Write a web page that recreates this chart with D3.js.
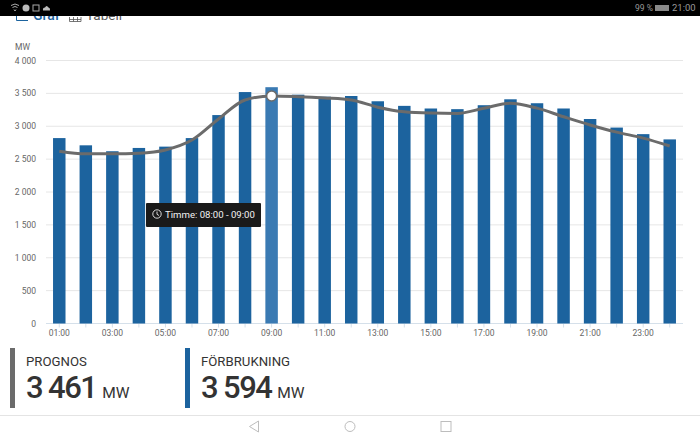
<!DOCTYPE html>
<html><head>
<meta charset="utf-8">
<title>Förbrukning</title>
<script src="https://d3js.org/d3.v7.min.js"></script>
<style>
  html, body { margin: 0; padding: 0; background: #fff; overflow: hidden; }
  svg { display: block; font-family: Roboto, sans-serif; }
  .gridline { stroke: #e6e6e6; stroke-width: 1; }
  .tick-label { fill: #666; font-size: 8.5px; }
  .nav { fill: none; stroke: #bdbdbd; stroke-width: 1; }
</style>
</head>
<body>
<svg id="chart" width="700" height="438"></svg>
<script>
// values
const hours = ["01:00","02:00","03:00","04:00","05:00","06:00","07:00","08:00","09:00","10:00","11:00","12:00",
               "13:00","14:00","15:00","16:00","17:00","18:00","19:00","20:00","21:00","22:00","23:00","24:00"];
const consumption = [2820,2710,2620,2670,2690,2820,3170,3520,3594,3480,3450,3460,
                     3380,3310,3270,3260,3320,3410,3350,3270,3110,2980,2880,2800];
const forecast = [2620,2580,2580,2590,2640,2790,3110,3400,3461,3450,3430,3400,
                  3290,3220,3200,3195,3275,3350,3275,3145,3020,2910,2820,2700];
const yTicks = [0,500,1000,1500,2000,2500,3000,3500,4000];
const activeHour = "09:00";

const svg = d3.select("svg#chart");
const margin = { top: 60.5, left: 46, right: 17, bottom: 114.5 };
const chartWidth = 700 - margin.left - margin.right;
const chartHeight = 438 - margin.top - margin.bottom;

const xScale = d3.scaleBand().domain(hours).range([0, chartWidth]).paddingInner(0.53).paddingOuter(0.265);
const yScale = d3.scaleLinear().domain([0, 4000]).range([chartHeight, 0]);
const fmt = d => d3.format(",")(d).replace(/,/g, " ");

let chart = svg.append("g").attr("transform", "translate(" + margin.left + "," + margin.top + ")");

// gridlines + y labels
yTicks.forEach(t => {
  chart.append("line").attr("class", "gridline")
    .attr("x1", 0).attr("x2", chartWidth)
    .attr("y1", yScale(t)).attr("y2", yScale(t))
    .style("stroke", t === 0 ? "#d5e0ea" : null);
  chart.append("text").attr("class", "tick-label")
    .attr("x", -10).attr("y", yScale(t) + 3)
    .attr("text-anchor", "end").text(fmt(t));
});
svg.append("text").attr("class", "tick-label").attr("x", 15).attr("y", 50).text("MW");

// x axis labels, every other hour
hours.forEach((h, i) => {
  let cx = xScale(h) + xScale.bandwidth() / 2;
  chart.append("line").attr("x1", cx).attr("x2", cx)
    .attr("y1", chartHeight).attr("y2", chartHeight + 4)
    .style("stroke", "#d5e0ea");
  if (i % 2 === 0) {
    chart.append("text").attr("class", "tick-label")
      .attr("x", cx).attr("y", chartHeight + 12)
      .attr("text-anchor", "middle").text(h);
  }
});

// bars
hours.forEach((h, i) => {
  chart.append("rect")
    .attr("x", xScale(h)).attr("width", xScale.bandwidth())
    .attr("y", yScale(consumption[i]))
    .attr("height", chartHeight - yScale(consumption[i]))
    .style("fill", h === activeHour ? "#3a7ab3" : "#1c639e");
});

// forecast line
const lineGen = d3.line()
  .x((d, i) => xScale(hours[i]) + xScale.bandwidth() / 2)
  .y(d => yScale(d))
  .curve(d3.curveMonotoneX);
chart.append("path").datum(forecast).attr("d", lineGen)
  .style("fill", "none").style("stroke", "#6b6b6b").style("stroke-width", 3);

// marker on the active hour
let ai = hours.indexOf(activeHour);
chart.append("circle")
  .attr("cx", xScale(activeHour) + xScale.bandwidth() / 2)
  .attr("cy", yScale(forecast[ai]))
  .attr("r", 5).style("fill", "#fff").style("stroke", "#6b6b6b").style("stroke-width", 1.5);

// tooltip
svg.append("rect").attr("x", 146).attr("y", 203).attr("width", 115).attr("height", 24)
  .attr("rx", 1).style("fill", "#1a1a1a");
svg.append("circle").attr("cx", 157).attr("cy", 214).attr("r", 4.2)
  .style("fill", "none").style("stroke", "#eee").style("stroke-width", 0.9);
svg.append("path").attr("d", "M157 211.5V214.3L159 215.5")
  .style("fill", "none").style("stroke", "#eee").style("stroke-width", 0.9);
svg.append("text").attr("x", 165).attr("y", 218).style("fill", "#f2f2f2").style("font-size", "9.6px")
  .text("Timme: 08:00 - 09:00");

// summary blocks
function summary(x, color, label, value) {
  svg.append("rect").attr("x", x).attr("y", 348).attr("width", 5).attr("height", 60).style("fill", color);
  svg.append("text").attr("x", x + 16).attr("y", 366)
    .style("font-size", "13.2px").style("fill", "#333").text(label);
  let t = svg.append("text").attr("x", x + 16).attr("y", 397.5).style("fill", "#333");
  t.append("tspan").style("font-size", "31px").style("font-weight", 500).style("letter-spacing", "-1.6px").text(fmt(value));
  t.append("tspan").attr("dx", 6).style("font-size", "15.5px").text("MW");
}
summary(10, "#6b6b6b", "PROGNOS", forecast[ai]);
summary(185, "#1c639e", "FÖRBRUKNING", consumption[ai]);

// android nav bar
svg.append("line").attr("x1", 0).attr("x2", 700).attr("y1", 415.5).attr("y2", 415.5).style("stroke", "#e4e4e4");
svg.append("path").attr("class", "nav").attr("d", "M258.5 421V432L249.5 426.5Z");
svg.append("circle").attr("class", "nav").attr("cx", 350).attr("cy", 426.5).attr("r", 5);
svg.append("rect").attr("class", "nav").attr("x", 441).attr("y", 421.5).attr("width", 10).attr("height", 10);

// header tabs, cut off by the status bar
svg.append("text").attr("x", 33).attr("y", 20).style("font-size", "14px").style("font-weight", 500).style("fill", "#1c639e").text("Graf");
svg.append("text").attr("x", 86).attr("y", 20).style("font-size", "13.5px").style("fill", "#555").text("Tabell");
svg.append("path").attr("d", "M16.5 12V20.5H28").style("fill", "none").style("stroke", "#1c639e");
svg.append("path").attr("d", "M69.5 17V21.5H81V17M73.5 17V21.5M77.5 17V21.5M69.5 19.5H81")
  .style("fill", "none").style("stroke", "#555").style("stroke-width", 0.8);

// status bar
svg.append("rect").attr("width", 700).attr("height", 16).style("fill", "#000");
svg.append("path").attr("d", "M11 5.5Q15 2.5 19 5.5M12.5 7.5Q15 5.5 17.5 7.5M14 9.5L15 11L16 9.5")
  .style("fill", "none").style("stroke", "#aaa").style("stroke-width", 1);
svg.append("circle").attr("cx", 26).attr("cy", 8).attr("r", 3.5).style("fill", "#bbb");
svg.append("rect").attr("x", 33).attr("y", 5).attr("width", 6).attr("height", 6)
  .style("fill", "none").style("stroke", "#aaa");
svg.append("path").attr("d", "M43 10.5Q42.5 7.5 45 7.5Q46.5 4.5 48.5 7.5Q50.5 8 50 10.5Z").style("fill", "#bbb");
svg.append("text").attr("x", 635).attr("y", 11).style("fill", "#999").style("font-size", "8.5px").text("99 %");
svg.append("rect").attr("x", 655).attr("y", 5).attr("width", 14).attr("height", 6).style("fill", "#888");
svg.append("text").attr("x", 672).attr("y", 11).style("fill", "#999").style("font-size", "9.5px").text("21:00");
</script>
</body></html>
